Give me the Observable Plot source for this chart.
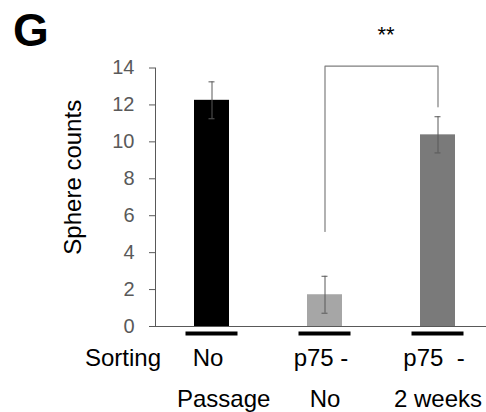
<!DOCTYPE html>
<html><head><meta charset="utf-8">
<script src="https://cdn.jsdelivr.net/npm/d3@7"></script>
<script src="https://cdn.jsdelivr.net/npm/@observablehq/plot@0.6"></script>
<style>
body{margin:0;background:#fff}
#chart{position:relative;width:486px;height:412px;overflow:hidden}
</style>
</head><body><div id="chart"></div>
<script>
const groups = ["No sorting / No passage", "p75- / No passage", "p75- / 2 weeks"];
const means = [12.25, 1.72, 10.38];
const errors = [1.0, 1.0, 0.98];
const barColors = ["#000000", "#a6a6a6", "#7a7a7a"];
const sortingLabels = ["No", "p75 -", "p75\u00a0\u00a0-"];
const passageLabels = ["", "No", "2 weeks"];
const rowHeaders = ["Sorting", "Passage"];
const yTicks = [0, 2, 4, 6, 8, 10, 12, 14];
const yLabel = "Sphere counts";
const panelLabel = "G";
const sigFrom = 1, sigTo = 2, sigFromY = 5.15, sigToY = 11.9, sigTop = 14.1, sigText = "**", sigTextY = 15.8;

const rows = groups.map((g, i) => ({g, mean: means[i], err: errors[i], fill: barColors[i], s: sortingLabels[i], p: passageLabels[i]}));
const bracket = [
  {g: groups[sigFrom], y: sigFromY},
  {g: groups[sigFrom], y: sigTop},
  {g: groups[sigTo], y: sigTop},
  {g: groups[sigTo], y: sigToY}
];
const axisGray = "#595959";

const svg = Plot.plot({
  width: 486, height: 412,
  marginLeft: 155, marginRight: 0, marginTop: 67.5, marginBottom: 86,
  style: {fontFamily: "'Liberation Sans', Arial, sans-serif", background: "white", overflow: "visible"},
  x: {domain: groups, range: [155, 494], paddingInner: 0.69, paddingOuter: 0.345, axis: null},
  y: {domain: [0, 14], axis: null},
  color: {type: "identity"},
  marks: [
    Plot.barY(rows, {x: "g", y: "mean", fill: "fill"}),
    Plot.ruleX(rows, {x: "g", y1: d => d.mean - d.err, y2: d => d.mean + d.err, stroke: axisGray, strokeWidth: 1}),
    Plot.tickY(rows, {x: "g", y: d => d.mean + d.err, stroke: axisGray, insetLeft: 14.5, insetRight: 14.5}),
    Plot.tickY(rows, {x: "g", y: d => d.mean - d.err, stroke: axisGray, insetLeft: 14.5, insetRight: 14.5}),
    Plot.axisY(yTicks, {tickSize: 6, tickPadding: 15, fontSize: 20, color: axisGray, label: null}),
    Plot.frame({anchor: "left", stroke: axisGray}),
    Plot.ruleY([0], {stroke: axisGray}),
    Plot.tickY(rows, {x: "g", y: () => 0, dy: 7, stroke: "black", strokeWidth: 4, insetLeft: -8.5, insetRight: -8.5}),
    Plot.text(rows, {x: "g", y: () => 0, text: "s", dy: 32, dx: -4, fontSize: 24, fill: "black"}),
    Plot.text(rows, {x: "g", y: () => 0, text: "p", dy: 73, fontSize: 24, fill: "black"}),
    Plot.text([rowHeaders[0]], {x: () => groups[0], y: () => 0, text: d => d, dx: -51, dy: 32, textAnchor: "end", fontSize: 24, fill: "black"}),
    Plot.text([rowHeaders[1]], {x: () => groups[0], y: () => 0, text: d => d, dx: -35, dy: 73, textAnchor: "start", fontSize: 24, fill: "black"}),
    Plot.text([yLabel], {frameAnchor: "left", text: d => d, rotate: -90, dx: -82, dy: -20, textAnchor: "middle", fontSize: 24, fill: "black"}),
    Plot.line(bracket, {x: "g", y: "y", stroke: "#7f7f7f", strokeWidth: 1.2, curve: "linear"}),
    Plot.text([sigText], {x: () => groups[sigFrom], y: () => sigTextY, text: d => d, dx: 61, fontSize: 22, fill: "black"})
  ]
});

d3.select(svg).append("text")
  .attr("x", 13).attr("y", 46)
  .attr("text-anchor", "start")
  .attr("font-size", 46).attr("font-weight", "bold")
  .attr("font-family", "'Liberation Sans', Arial, sans-serif")
  .attr("fill", "black")
  .text(panelLabel);

document.getElementById("chart").appendChild(svg);
</script>
</body></html>
